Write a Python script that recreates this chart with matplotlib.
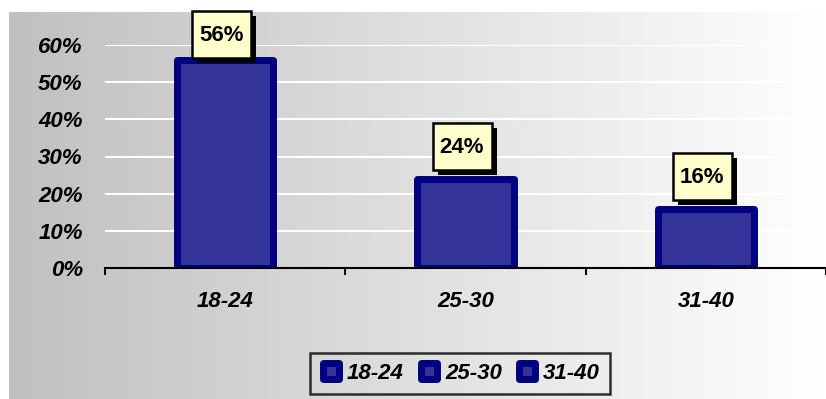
import numpy as np
import matplotlib
matplotlib.use("Agg")
import matplotlib.pyplot as plt
from matplotlib.colors import LinearSegmentedColormap
from matplotlib.patches import Rectangle
from matplotlib.transforms import IdentityTransform
from matplotlib.markers import MarkerStyle
from matplotlib.lines import Line2D
from matplotlib.ticker import FuncFormatter

# Data
categories = ["18-24", "25-30", "31-40"]
shares = [0.56, 0.24, 0.16]
value_labels = ["56%", "24%", "16%"]
y_ticks = [0.0, 0.1, 0.2, 0.3, 0.4, 0.5, 0.6]

plt.rcParams["font.family"] = ["Liberation Sans", "DejaVu Sans"]

W, H = 826, 399
fig = plt.figure(figsize=(W / 100, H / 100), dpi=100, facecolor="white")

# Chart-area background: horizontal grey-to-white gradient
bg = fig.add_axes([9 / W, 0, (W - 9) / W, (H - 12) / H], zorder=0)
grad = np.linspace(0, 1, 512).reshape(1, -1)
cmap = LinearSegmentedColormap.from_list("bg", ["#c0c0c0", "#ffffff"])
bg.imshow(grad, cmap=cmap, aspect="auto", extent=(0, 1, 0, 1))
bg.set_axis_off()

# Plot area
left_px, right_px, top_px, base_px = 105, 826, 45, 268
ax = fig.add_axes([left_px / W, (H - base_px) / H,
                   (right_px - left_px) / W, (base_px - top_px) / H], zorder=1)
ax.patch.set_alpha(0)

x = np.arange(len(categories))
bars = ax.bar(x, shares, width=0.40, color="#333399", edgecolor="#000080",
              linewidth=5, zorder=3)
for b in bars:
    b.set_joinstyle("round")

cat_px = (right_px - left_px) / 242.0
ax.set_xlim(-0.5, cat_px - 0.5)
ax.set_ylim(0, 0.6)

# Y axis: white gridlines, percent labels
ax.set_yticks(y_ticks)
ax.yaxis.set_major_formatter(FuncFormatter(lambda v, p: f"{v * 100:.0f}%"))
ax.yaxis.grid(True, color="white", linewidth=1.5, zorder=1)
ax.set_axisbelow(True)
ax.tick_params(axis="y", length=0, pad=16)
for t in ax.get_yticklabels():
    t.set_fontsize(16)
    t.set_fontweight("bold")
    t.set_fontstyle("italic")

# X axis: boundary ticks, labels centred on categories
ax.set_xticks([-0.5, 0.5, 1.5, 2.5])
ax.set_xticklabels([])
ax.set_xticks(x, minor=True)
ax.set_xticklabels(categories, minor=True, fontsize=16, fontweight="bold",
                   fontstyle="italic")
ax.tick_params(axis="x", which="major", length=5, width=1.5, direction="out")
ax.tick_params(axis="x", which="minor", length=0, pad=16.5)

for s in ["left", "right", "top"]:
    ax.spines[s].set_visible(False)
ax.spines["bottom"].set_linewidth(1.5)
ax.spines["bottom"].set_zorder(4)

# Value call-outs: pale yellow boxes with a black drop shadow
box_w, box_h = 59, 47
top_limit = H - 11.3
for i, (v, lab) in enumerate(zip(shares, value_labels)):
    cx, ytop = ax.transData.transform((i, v))
    bottom = ytop + 9
    if bottom + box_h > top_limit:
        bottom = top_limit - box_h
    bx = cx - 33
    fig.add_artist(Rectangle((bx + 5, bottom - 5), box_w, box_h,
                             transform=IdentityTransform(), facecolor="black",
                             edgecolor="black", linewidth=0, zorder=5))
    fig.add_artist(Rectangle((bx, bottom), box_w, box_h,
                             transform=IdentityTransform(), facecolor="#ffffcc",
                             edgecolor="black", linewidth=1.8, zorder=6))
    fig.text(bx + box_w / 2, bottom + box_h / 2 - 1, lab,
             transform=IdentityTransform(), ha="center", va="center",
             fontsize=16, fontweight="bold", zorder=7)

# Legend
marker = MarkerStyle("s", joinstyle="round")
handles = [Line2D([], [], linestyle="none", marker=marker, markersize=11,
                  markerfacecolor="#333399", markeredgecolor="#000080",
                  markeredgewidth=5) for _ in categories]
leg = fig.legend(handles, categories, loc="center",
                 bbox_to_anchor=(460 / W, (H - 373.5) / H), ncol=3,
                 prop={"size": 16, "weight": "bold", "style": "italic"},
                 handlelength=1.0, handletextpad=0.2, columnspacing=0.65,
                 borderpad=0.45, fancybox=False, frameon=True)
leg.get_frame().set_edgecolor("black")
leg.get_frame().set_linewidth(1.8)
leg.get_frame().set_facecolor("none")
leg.set_zorder(8)

fig.savefig("out.png", dpi=100, facecolor="white")
